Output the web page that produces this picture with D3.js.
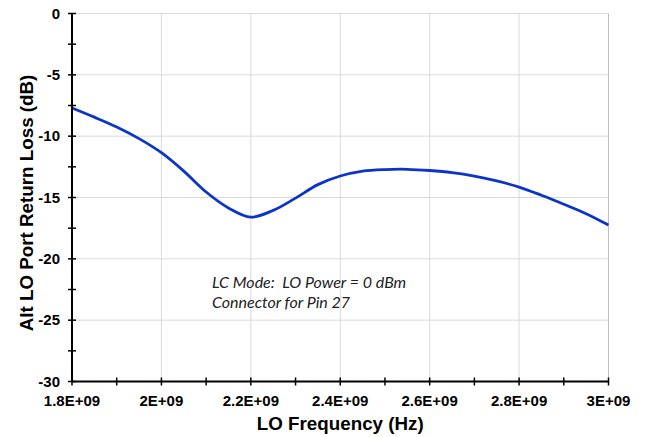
<!DOCTYPE html>
<html><head><meta charset="utf-8">
<script src="https://cdn.jsdelivr.net/npm/d3@7"></script>
<style>body{margin:0;background:#fff}svg{display:block}</style>
</head><body>
<svg id="c" width="645" height="437"></svg>
<script>
const freqGHz = [1.80,1.85,1.90,1.95,2.00,2.05,2.10,2.15,2.20,2.25,2.30,2.35,2.40,2.45,2.50,2.55,2.60,2.65,2.70,2.75,2.80,2.85,2.90,2.95,3.00];
const returnLoss = [-7.7,-8.45,-9.25,-10.2,-11.35,-12.85,-14.55,-15.85,-16.6,-16.05,-15.05,-13.95,-13.25,-12.85,-12.72,-12.7,-12.8,-12.97,-13.25,-13.65,-14.15,-14.82,-15.55,-16.32,-17.25];
const xTicks = [1.8e9,2.0e9,2.2e9,2.4e9,2.6e9,2.8e9,3.0e9];
const xTickLabels = ["1.8E+09","2E+09","2.2E+09","2.4E+09","2.6E+09","2.8E+09","3E+09"];
const yTicks = [0,-5,-10,-15,-20,-25,-30];
const annotation = ["LC Mode:  LO Power = 0 dBm","Connector for Pin 27"];

const svg = d3.select("#c");
const L=72,R=608.5,T=13.5,B=381.5;
const x = d3.scaleLinear().domain([1.8e9,3.0e9]).range([L,R]);
const y = d3.scaleLinear().domain([-30,0]).range([B,T]);
const font = "'Liberation Sans', Arial, sans-serif";

// gridlines
const g = svg.append("g");
g.selectAll("line.h").data(yTicks.filter(d=>d!==-30)).join("line")
 .attr("x1",L).attr("x2",R).attr("y1",d=>y(d)).attr("y2",d=>y(d))
 .attr("stroke","#d9d9d9").attr("stroke-width",1);
g.selectAll("line.v").data(xTicks.slice(1)).join("line")
 .attr("y1",T).attr("y2",B).attr("x1",d=>x(d)).attr("x2",d=>x(d))
 .attr("stroke",(d,i)=>i===xTicks.length-2?"#c0c0c0":"#d9d9d9").attr("stroke-width",1);

// curve
const data = freqGHz.map((f,i)=>({f:f*1e9,v:returnLoss[i]}));
svg.append("path").datum(data)
 .attr("d",d3.line().x(d=>x(d.f)).y(d=>y(d.v)).curve(d3.curveCatmullRom.alpha(0.5)))
 .attr("fill","none").attr("stroke","#0a35c8").attr("stroke-width",2.8);

// axes
const ax = svg.append("g");
ax.append("line").attr("x1",L).attr("x2",L).attr("y1",T).attr("y2",B).attr("stroke","#000").attr("stroke-width",2);
ax.append("line").attr("x1",L).attr("x2",R).attr("y1",B).attr("y2",B).attr("stroke","#000").attr("stroke-width",2);
const yMinor = d3.range(0,-30.01,-2.5);
ax.selectAll("line.yt").data(yMinor).join("line")
 .attr("x1",L-4).attr("x2",L+4).attr("y1",d=>y(d)).attr("y2",d=>y(d)).attr("stroke","#000").attr("stroke-width",1.5);
const xMinor = d3.range(1.8e9,3.0e9+1,1e8);
ax.selectAll("line.xt").data(xMinor).join("line")
 .attr("y1",B-4).attr("y2",B+4).attr("x1",d=>x(d)).attr("x2",d=>x(d)).attr("stroke","#000").attr("stroke-width",1.5);

ax.selectAll("text.yl").data(yTicks).join("text")
 .attr("x",L-12).attr("y",d=>y(d)+5.3).attr("text-anchor","end")
 .attr("font-family",font).attr("font-weight","bold").attr("font-size",15).text(d=>d);
ax.selectAll("text.xl").data(xTicks).join("text")
 .attr("x",d=>x(d)).attr("y",406).attr("text-anchor","middle")
 .attr("font-family",font).attr("font-weight","bold").attr("font-size",15).text((d,i)=>xTickLabels[i]);

svg.append("text").attr("x",(L+R)/2).attr("y",430).attr("text-anchor","middle")
 .attr("font-family",font).attr("font-weight","bold").attr("font-size",18.8).text("LO Frequency (Hz)");
svg.append("text").attr("transform",`translate(33,203) rotate(-90)`).attr("text-anchor","middle")
 .attr("font-family",font).attr("font-weight","bold").attr("font-size",18.8).text("Alt LO Port Return Loss (dB)");

svg.selectAll("text.ann").data(annotation).join("text")
 .attr("x",212).attr("y",(d,i)=>288+i*20).attr("font-family","Lato, 'Open Sans', sans-serif")
 .attr("font-style","italic").attr("font-size",16).attr("fill","#222")
 .style("white-space","pre").text(d=>d);
</script>
</body></html>
